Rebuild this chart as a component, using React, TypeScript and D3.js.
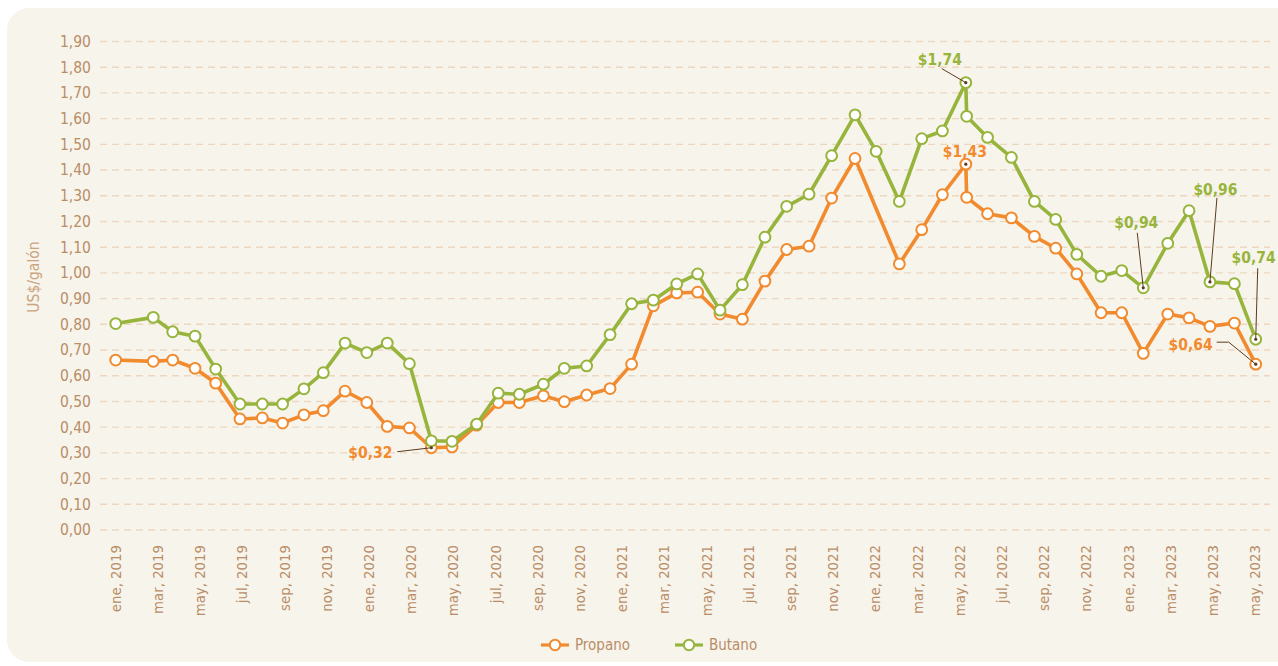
import React from "react";
import * as d3 from "d3";

// ---------- DATA ----------
const tickLabels = [
  "ene, 2019", "mar, 2019", "may, 2019", "jul, 2019", "sep, 2019", "nov, 2019",
  "ene, 2020", "mar, 2020", "may, 2020", "jul, 2020", "sep, 2020", "nov, 2020",
  "ene, 2021", "mar, 2021", "may, 2021", "jul, 2021", "sep, 2021", "nov, 2021",
  "ene, 2022", "mar, 2022", "may, 2022", "jul, 2022", "sep, 2022", "nov, 2022",
  "ene, 2023", "mar, 2023", "may, 2023", "may, 2023",
];

// position of each observation, in months since ene 2019
const monthPos = [
  0, 1.78, 2.7, 3.76, 4.74, 5.89, 6.95, 7.91, 8.92, 9.84,
  10.87, 11.9, 12.87, 13.92, 14.96, 15.94, 17.11, 18.13, 19.13, 20.27,
  21.26, 22.32, 23.43, 24.45, 25.48, 26.59, 27.58, 28.64, 29.7, 30.77,
  31.8, 32.86, 33.93, 35.04, 36.04, 37.14, 38.2, 39.18, 40.29, 40.33,
  41.32, 42.45, 43.54, 44.55, 45.55, 46.7, 47.68, 48.7, 49.86, 50.87,
  51.86, 53.02, 54.03,
];

const propano: (number | null)[] = [
  0.661, 0.656, 0.661, 0.629, 0.571, 0.432, 0.436, 0.416, 0.448, 0.464,
  0.54, 0.496, 0.403, 0.397, 0.32, 0.323, 0.408, 0.496, 0.496, 0.522,
  0.499, 0.525, 0.55, 0.645, 0.872, 0.922, 0.925, 0.84, 0.82, 0.968,
  1.091, 1.104, 1.291, 1.445, null, 1.035, 1.168, 1.304, 1.423, 1.294,
  1.23, 1.214, 1.142, 1.096, 0.996, 0.845, 0.845, 0.687, 0.84, 0.825,
  0.792, 0.805, 0.645,
];

const butano: (number | null)[] = [
  0.803, 0.827, 0.771, 0.754, 0.626, 0.49, 0.49, 0.49, 0.549, 0.612,
  0.727, 0.69, 0.727, 0.647, 0.347, 0.345, 0.412, 0.532, 0.528, 0.567,
  0.629, 0.638, 0.76, 0.88, 0.894, 0.957, 0.996, 0.855, 0.954, 1.139,
  1.259, 1.306, 1.456, 1.615, 1.473, 1.278, 1.522, 1.552, 1.74, 1.609,
  1.527, 1.449, 1.278, 1.208, 1.072, 0.987, 1.009, 0.942, 1.115, 1.242,
  0.965, 0.958, 0.742,
];

const yTicks = [0, 0.1, 0.2, 0.3, 0.4, 0.5, 0.6, 0.7, 0.8, 0.9, 1.0, 1.1, 1.2, 1.3, 1.4, 1.5, 1.6, 1.7, 1.8, 1.9];

const seriesNames = ["Propano", "Butano"];

// annotated points: series, observation index, label
const annSeries = ["Butano", "Propano", "Propano", "Butano", "Butano", "Butano", "Propano"];
const annIndex = [38, 38, 14, 47, 50, 52, 52];
const annLabels = ["$1,74", "$1,43", "$0,32", "$0,94", "$0,96", "$0,74", "$0,64"];

// ---------- LAYOUT / STYLE ----------
const W = 1278;
const H = 666;
const COLORS: Record<string, string> = { Propano: "#f28a2e", Butano: "#97b43c" };
const TEXT = "#b98d66";
const GRID = "#ecd6c0";
const LEADER = "#5b3b1e";
const FONT = "'DejaVu Sans Condensed', 'Liberation Sans Narrow', 'Roboto', sans-serif";

// label layout: [dx, dy, anchor, leader path relative to point (or null)]
const annLayout: { dx: number; dy: number; anchor: string; leader: [number, number][] | null }[] = [
  { dx: -26, dy: -18, anchor: "middle", leader: [[-24, -14], [0, 0]] },
  { dx: -1, dy: -7, anchor: "middle", leader: null },
  { dx: -39, dy: 10, anchor: "end", leader: [[-34, 4], [0, 0]] },
  { dx: -7, dy: -60, anchor: "middle", leader: [[-6, -55], [0, 0]] },
  { dx: 5.5, dy: -87, anchor: "middle", leader: [[7, -84], [0, 0]] },
  { dx: 20, dy: -76, anchor: "end", leader: [[2, -71], [0, 0]] },
  { dx: -43, dy: -14, anchor: "end", leader: [[-39, -22], [-27, -22], [0, 0]] },
];

export default function App() {
  const x = d3.scaleLinear().domain([0, 54]).range([115.7, 1255.1]);
  const y = d3.scaleLinear().domain([0, 1.9]).range([530, 41.5]);

  const seriesData: Record<string, (number | null)[]> = { Propano: propano, Butano: butano };

  const line = d3
    .line<{ m: number; v: number }>()
    .x((d) => x(d.m))
    .y((d) => y(d.v));

  const pts = (name: string) =>
    seriesData[name]
      .map((v, i) => ({ m: monthPos[i], v: v as number, i }))
      .filter((d) => d.v != null);

  const fmt = (v: number) => v.toFixed(2).replace(".", ",");

  return (
    <svg
      width={W}
      height={H}
      style={{ position: "absolute", left: 0, top: 0, background: "#ffffff" }}
      fontFamily={FONT}
    >
      <rect x={7} y={8} width={W + 20} height={654} rx={22} ry={22} fill="#f7f4ec" />

      {/* grid + y ticks */}
      {yTicks.map((t) => (
        <g key={t}>
          <line
            x1={100}
            x2={1270}
            y1={y(t)}
            y2={y(t)}
            stroke={GRID}
            strokeWidth={1.4}
            strokeDasharray="7 5"
          />
          <text x={91} y={y(t)} dy="0.35em" textAnchor="end" fontSize={15.5} fill={TEXT}>
            {fmt(t)}
          </text>
        </g>
      ))}

      {/* y title */}
      <text
        transform={`translate(39, 277) rotate(-90)`}
        textAnchor="middle"
        fontSize={15.5}
        fill="#cba47e"
      >
        US$/galón
      </text>

      {/* x tick labels */}
      {tickLabels.map((lab, i) => (
        <text
          key={i}
          transform={`translate(${x(i * 2) + 5}, 545) rotate(-90)`}
          textAnchor="end"
          fontSize={14.8}
          fill={TEXT}
        >
          {lab}
        </text>
      ))}

      {/* series */}
      {seriesNames.map((name) => {
        const p = pts(name);
        return (
          <g key={name}>
            <path
              d={line(p) || ""}
              fill="none"
              stroke={COLORS[name]}
              strokeWidth={3.6}
              strokeLinejoin="round"
            />
            {p.map((d) => (
              <circle
                key={d.i}
                cx={x(d.m)}
                cy={y(d.v)}
                r={5.4}
                fill="#ffffff"
                stroke={COLORS[name]}
                strokeWidth={2}
              />
            ))}
          </g>
        );
      })}

      {/* annotations */}
      {annLabels.map((lab, k) => {
        const name = annSeries[k];
        const idx = annIndex[k];
        const px = x(monthPos[idx]);
        const py = y(seriesData[name][idx] as number);
        const L = annLayout[k];
        return (
          <g key={k}>
            {L.leader && (
              <path
                d={"M" + L.leader.map(([a, b]) => `${px + a},${py + b}`).join("L")}
                fill="none"
                stroke={LEADER}
                strokeWidth={1}
              />
            )}
            <circle cx={px} cy={py} r={1.6} fill={LEADER} />
            <text
              x={px + L.dx}
              y={py + L.dy}
              textAnchor={L.anchor}
              fontSize={15.5}
              fontWeight="bold"
              fill={COLORS[name]}
            >
              {lab}
            </text>
          </g>
        );
      })}

      {/* legend */}
      {seriesNames.map((name, i) => {
        const lx = 541 + i * 134;
        return (
          <g key={name}>
            <line x1={lx} x2={lx + 28} y1={645} y2={645} stroke={COLORS[name]} strokeWidth={3.2} />
            <circle cx={lx + 14} cy={645} r={5.2} fill="#fff" stroke={COLORS[name]} strokeWidth={2} />
            <text x={lx + 34} y={645} dy="0.35em" fontSize={15} fill={TEXT}>
              {name}
            </text>
          </g>
        );
      })}
    </svg>
  );
}
